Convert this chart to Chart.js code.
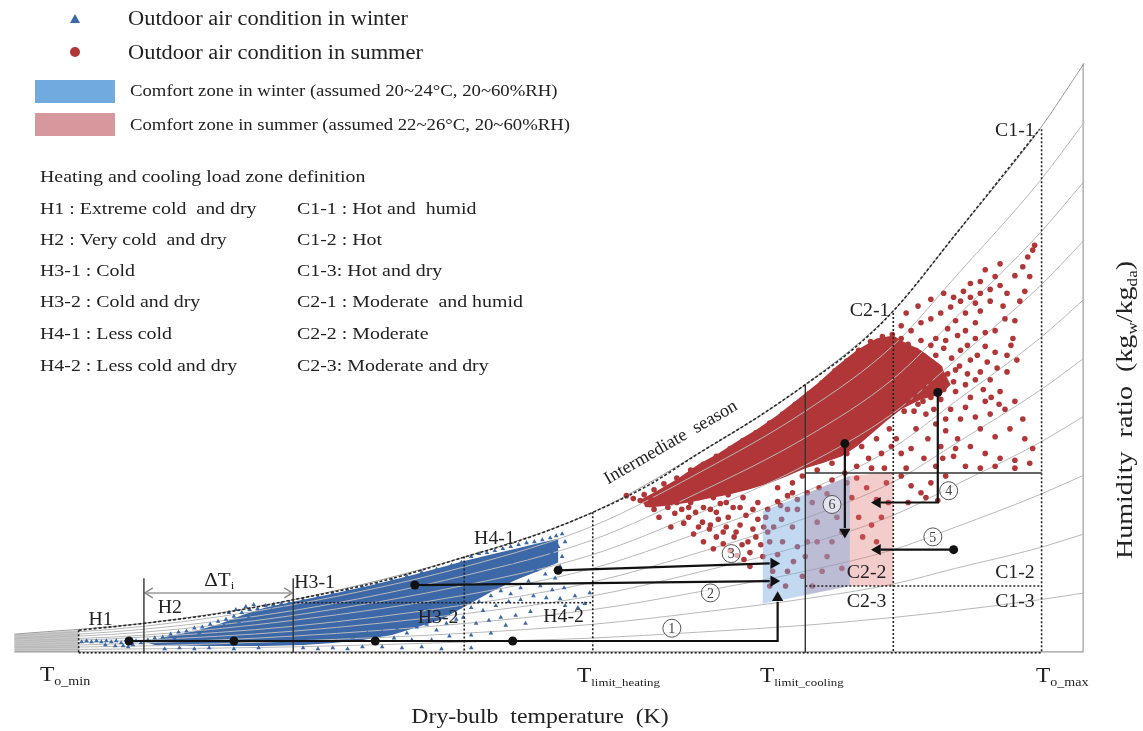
<!DOCTYPE html>
<html>
<head>
<meta charset="utf-8">
<script src="https://cdn.jsdelivr.net/npm/chart.js@4.4.0/dist/chart.umd.min.js"></script>
<style>
  html, body { margin: 0; padding: 0; background: #fff; }
  canvas { display: block; }
</style>
</head>
<body>
<canvas id="psychro" width="1143" height="731"></canvas>
<script>
// ---- data (chart units = picture pixels, y grows downward) ----

// relative humidity curves, 10% .. 90%, plus saturation (100%)
const rhT = [8, 139, 290, 465, 593, 700, 808, 897, 960, 1045, 1090];
const rhLines = [
    [655, 654, 652, 647, 643, 637, 630, 622, 615, 604, 597],
    [653, 651, 646, 638, 629, 617, 603, 588, 572, 551, 537],
    [652, 648, 641, 628, 614, 596, 575, 553, 530, 497, 477],
    [650, 645, 636, 618, 600, 576, 548, 518, 487, 444, 417],
    [648, 642, 631, 609, 586, 556, 521, 484, 445, 391, 358],
    [646, 640, 625, 599, 572, 536, 494, 449, 402, 338, 298],
    [644, 637, 620, 589, 558, 516, 467, 414, 360, 285, 238],
    [643, 634, 615, 579, 543, 495, 439, 379, 317, 231, 178],
    [641, 631, 609, 570, 529, 475, 412, 345, 275, 178, 118],
    [639, 628, 604, 560, 515, 455, 385, 310, 232, 125, 58]
];

// saturation line (dotted boundary)
const satT = [73, 139, 215, 290, 380, 465, 530, 593, 650, 700, 760, 808, 855, 897, 960, 1045];
const satW = [635, 628, 618, 604, 585, 560, 540, 515, 487, 455, 418, 385, 350, 310, 232, 125];

// dense part of the winter cloud
const winterCoreT = [140, 165, 190, 215, 240, 262, 290, 330, 370, 410, 440, 465, 490, 515, 540, 558,
    558, 540, 515, 490, 465, 440, 415, 390, 360, 330, 300, 260, 200, 150, 140];
const winterCoreW = [647, 641, 636, 629, 619, 612, 606, 598, 589, 579, 571, 564, 558, 552, 546, 542,
    566, 574, 584, 596, 610, 624, 632, 640, 645, 648, 650, 651, 651, 650, 647];

const winterPts = [
    [76,647],[81,646],[86,647],[91,646],[96,647],[101,646],[106,647],[111,646],[116,648],[121,645],
    [126,647],[131,646],[136,648],[118,651],[123,652],[128,650],[100,650],[110,651],
    [143,645],[150,643],[158,642],[166,639],[174,637],[182,636],[190,633],[198,632],[206,629],[214,626],
    [222,624],[230,621],[238,617],[246,614],[254,613],[262,610],[270,609],[278,608],[286,607],[170,643],
    [195,638],[220,630],[245,622],[235,626],[255,618],[268,615],[280,613],[250,609],[232,614],[225,617],[242,611],
    [160,654],[175,653],[190,654],[205,653],[230,654],[255,653],[300,653],[315,654],[330,653],[345,654],
    [360,652],[380,652],[400,653],[420,652],[440,654],[470,653],
    [300,604],[315,601],[330,597],[345,594],[360,591],[375,588],[390,584],[405,580],[420,576],[435,573],
    [450,569],[460,566],[350,642],[365,638],[380,637],[395,633],[405,638],[415,632],[425,629],[435,635],
    [445,628],[455,624],[448,641],[430,645],[410,645],[392,643],[462,622],[458,612],
    [470,560],[478,557],[486,556],[494,554],[502,552],[510,550],[518,548],[526,546],[534,545],[542,543],
    [550,541],[556,539],[562,537],[565,545],[558,550],[552,556],[562,560],[548,566],[560,570],[555,582],
    [545,578],[535,574],[528,585],[540,590],[552,594],[564,592],[520,592],[510,598],[500,595],[490,600],
    [478,606],[470,612],[482,615],[495,610],[508,606],[520,604],[533,600],[546,602],[560,603],[565,610],
    [500,622],[515,620],[530,616],[488,625],[475,628],[505,630],[525,628],[470,640],[490,638],[480,572],
    [495,576],[510,566],[525,562],[545,556],[530,556],
    [575,600],[585,608],[590,597],[578,612]
];

// dense part of the summer cloud
const summerCoreT = [640, 660, 680, 700, 720, 740, 760, 780, 800, 820, 840, 860, 880, 897,
    905, 925, 945, 955, 945, 925, 905, 890, 875, 860, 845, 825, 808, 790, 770, 750, 730, 710, 690, 670, 650, 640];
const summerCoreW = [503, 492, 480, 466, 455, 442, 430, 416, 400, 384, 366, 350, 338, 335,
    340, 350, 365, 385, 395, 400, 410, 422, 435, 448, 458, 465, 470, 478, 486, 492, 497, 501, 505, 508, 510, 503];

const summerPts = [
    [655,492],[665,486],[678,480],[692,472],[705,466],[718,458],[732,450],[745,442],[758,434],[772,424],
    [785,415],[798,405],[812,394],[825,383],[838,371],[850,361],[862,350],[874,341],[886,336],[896,334],
    [905,338],[912,344],[920,350],[928,356],[936,362],[944,368],[952,374],[958,382],[948,390],[935,398],
    [922,405],[908,412],[905,325],[915,330],[925,322],[935,318],[945,312],[955,306],[965,300],[975,296],
    [985,292],[995,288],[1005,284],[960,320],[970,330],[980,338],[990,346],[1000,352],[950,340],[965,350],
    [975,360],[985,372],[995,380],[1005,392],[960,370],[970,385],[945,400],[955,410],[965,420],[980,418],
    [995,415],[1010,410],[1020,402],[1012,372],[1022,360],[1018,338],[1000,330],[1010,318],[985,310],[975,282],
    [990,268],[1005,262],[1020,274],[1028,265],[1033,255],[1038,248],[1040,243],[1012,292],[1025,300],
    [930,415],[940,425],[950,432],[962,440],[975,448],[990,455],[1005,460],[1020,462],[1035,465],[920,430],
    [932,440],[945,448],[958,458],[970,468],[985,470],[915,450],[928,460],[940,468],[950,478],[935,485],
    [925,495],[915,488],[905,478],[912,505],[930,500],[942,503],[905,455],[900,440],[910,470],
    [910,312],[922,305],[935,298],[948,292],
    [902,350],[910,358],[918,366],[926,374],[934,382],[942,390],[905,365],[913,373],[921,381],[929,389],
    [937,392],[903,380],[911,388],[919,396],[927,402],[903,395],[912,402],[918,412],[940,355],[948,348],
    [956,358],[964,366],[972,374],[980,380],[988,390],[996,398],[1004,405],[940,338],[952,328],[962,335],
    [972,345],[982,355],[992,362],[1002,368],[1012,355],[1016,345],[990,332],[980,322],[970,312],[958,296],
    [968,290],[980,302],[995,300],[1008,305],[1020,320],[1030,290],[1035,275],[1000,275],[985,280],[925,340],
    [935,345],[960,392],[975,398],[990,402],[970,408],[985,430],[1000,438],[1015,430],[1028,420],[1030,440],
    [1038,450],[950,420],[938,410],[960,450],[947,460],[1000,468],[1020,470],
    [627,498],[634,501],[641,503],[648,507],[655,512],[662,505],[669,510],[676,516],[683,512],[690,520],
    [697,515],[704,525],[711,532],[718,540],[725,547],[732,554],[739,559],[746,563],[752,556],[744,548],
    [736,540],[728,530],[720,522],[712,512],[722,506],[735,510],[748,518],[760,522],[770,512],[780,504],
    [790,498],[760,505],[745,500],[730,497],[700,500],[685,526],[672,530],[660,520],[695,537],[705,545],
    [715,552],[758,540],[766,530],[772,545],[765,560],[752,570],[780,490],[795,485],[805,478],[820,472],
    [835,465],[850,455],[865,448],[880,440],[893,430],
    [645,497],[652,502],[668,498],[680,500],[692,505],[705,510],[718,515],[730,520],[742,528],[755,532],
    [763,548],[750,545],[738,535],[725,535],[712,528],[700,530],[690,510],[678,505],[715,500],[728,505],
    [742,510],[755,512],[768,520],[776,530],[784,522],[790,512],[800,502],[810,495],[822,490],[835,482],
    [848,475],[860,468],[872,460],[885,455],[895,448],
    [770,535],[785,545],[795,530],[780,558],[800,550],[790,575],[810,545],[820,525],[830,560],[840,520],
    [835,545],[825,575],[815,590],[805,580],[845,572],[855,500],[862,520],[870,490],[880,502],[885,520],
    [866,540],[875,528],[890,485],[850,485],[830,496],[815,505],[800,512],[795,495],[783,508],[860,480],
    [875,470],[888,470],[892,505],[880,545],[845,535],[820,545],[808,560],[796,565],[775,575],[772,590],[788,590]
];

// comfort zones
const winterZoneT = [765, 853, 853, 765, 765];
const winterZoneW = [514, 478, 590, 608, 514];
const summerZoneT = [808, 853, 897, 897, 853, 808, 808];
const summerZoneW = [496, 478, 474, 590, 590, 599, 496];

// zone boundaries: [x1, y1, x2, y2]
const dottedLines = [
    [73, 658, 1047, 658], [73, 635, 73, 658], [290, 607, 593, 607], [463, 560, 463, 658],
    [593, 515, 593, 658], [808, 590, 1047, 590], [897, 312, 897, 658], [1047, 125, 1047, 658]
];
const solidLines = [
    [139, 582, 139, 658], [290, 582, 290, 658], [808, 385, 808, 658], [808, 475, 1047, 475]
];

// process arrows (polyline, then head position and direction)
const arrowPaths = [
    [[124,646],[780,646],[780,606]],
    [[413,589],[772,585]],
    [[558,574],[772,567]],
    [[942,393],[942,505],[884,505]],
    [[958,553],[884,553]],
    [[848,445],[848,531]]
];
const arrowHeads = [[780,602,0],[776,585,90],[776,567,90],[881,505,270],[881,553,270],[848,535,180]];
const arrowDots = [[124,646],[230,646],[373,646],[512,646],[413,589],[558,574],[942,393],[958,553],[848,445]];
const arrowNums = [['1',673,633],['2',712,597],['3',733,557],['4',953,493],['5',937,540],['6',835,507]];

// zone names
const zoneLabels = [
    ['C1-1', 1040, 127, 'right'], ['C2-1', 853, 310, 'left'], ['C2-2', 850, 577, 'left'],
    ['C2-3', 850, 607, 'left'], ['C1-2', 1000, 577, 'left'], ['C1-3', 1000, 607, 'left'],
    ['H1', 83, 625, 'left'], ['H2', 153, 613, 'left'], ['H3-1', 291, 587, 'left'],
    ['H4-1', 473, 542, 'left'], ['H4-2', 543, 622, 'left'], ['H3-2', 416, 623, 'left']
];

const defLeft = ['H1 : Extreme cold  and dry', 'H2 : Very cold  and dry', 'H3-1 : Cold',
    'H3-2 : Cold and dry', 'H4-1 : Less cold', 'H4-2 : Less cold and dry'];
const defRight = ['C1-1 : Hot and  humid', 'C1-2 : Hot', 'C1-3: Hot and dry',
    'C2-1 : Moderate  and humid', 'C2-2 : Moderate', 'C2-3: Moderate and dry'];
const defRows = [210, 241, 272, 303, 335, 367];

// ---- styling ----
const FONT = '"Liberation Serif", "Times New Roman", serif';
const BLUE = '#3c68a8';
const RED = '#b13638';
const WIDE = 1.17;   // the original lettering is a bit stretched sideways

const xy = (xs, ys) => xs.map((x, i) => ({x: x, y: ys[i]}));
const pairs = arr => arr.map(p => ({x: p[0], y: p[1]}));

function path(data, color, width, dash, order, extra) {
    return Object.assign({
        data: data, showLine: true, borderColor: color, borderWidth: width,
        borderDash: dash || [], pointRadius: 0, fill: false, order: order
    }, extra || {});
}

const datasets = [];

// background wedge at the cold end
datasets.push(path(pairs([[8,639],[73,635],[73,657],[8,657],[8,639]]), '#c9c9c9', 0, null, 120,
    {fill: 'shape', backgroundColor: '#c9c9c9'}));

// frame of the chart
datasets.push(path(pairs([[8,657],[1089,657],[1089,58]]), '#9a9a9a', 1.2, null, 110));

// cores of the clouds
datasets.push(path(xy(winterCoreT, winterCoreW), BLUE, 0, null, 90,
    {fill: 'shape', backgroundColor: BLUE}));
datasets.push(path(xy(summerCoreT, summerCoreW), RED, 0, null, 90,
    {fill: 'shape', backgroundColor: RED}));

// RH curves over the cores
rhLines.forEach((w, i) => {
    datasets.push(path(xy(rhT, w), i === 9 ? '#9a9a9a' : '#b8b8b8', 1, null, 80,
        {cubicInterpolationMode: 'monotone'}));
});

// scattered observations
datasets.push({
    label: 'Outdoor air condition in winter', data: pairs(winterPts), order: 60,
    pointStyle: 'triangle', pointRadius: 2.7, backgroundColor: BLUE, borderColor: BLUE, borderWidth: 0
});
datasets.push({
    label: 'Outdoor air condition in summer', data: pairs(summerPts), order: 60,
    pointStyle: 'circle', pointRadius: 2.8, backgroundColor: RED, borderColor: RED, borderWidth: 0
});

// comfort zones (pink first, blue on top)
datasets.push(path(xy(summerZoneT, summerZoneW), 'rgba(0,0,0,0)', 0, null, 41,
    {fill: 'shape', backgroundColor: 'rgba(222,115,115,0.36)'}));
datasets.push(path(xy(winterZoneT, winterZoneW), 'rgba(0,0,0,0)', 0, null, 40,
    {fill: 'shape', backgroundColor: 'rgba(120,170,225,0.45)'}));

// saturation line
datasets.push(path(xy(satT, satW), '#2a2a2a', 1.6, [3, 2], 30, {cubicInterpolationMode: 'monotone'}));

dottedLines.forEach(l => {
    datasets.push(path(pairs([[l[0], l[1]], [l[2], l[3]]]), '#222', 1.6, [2, 2], 30));
});
solidLines.forEach(l => {
    datasets.push(path(pairs([[l[0], l[1]], [l[2], l[3]]]), '#333', 1.4, null, 30));
});

// delta T span
datasets.push(path(pairs([[140,597],[289,597]]), '#9a9a9a', 1.5, null, 30));
datasets.push(path(pairs([[148,592],[140,597],[148,602]]), '#8a8a8a', 1.5, null, 30));
datasets.push(path(pairs([[281,592],[289,597],[281,602]]), '#8a8a8a', 1.5, null, 30));

// arrows
arrowPaths.forEach(p => {
    datasets.push(path(pairs(p), '#111', 2.2, null, 20));
});
datasets.push({
    data: arrowHeads.map(h => ({x: h[0], y: h[1], r: h[2]})), order: 10,
    pointStyle: 'triangle', pointRadius: 6.5, backgroundColor: '#111', borderWidth: 0,
    pointRotation: ctx => (ctx.raw ? ctx.raw.r : 0)
});
datasets.push({
    data: pairs(arrowDots), order: 10,
    pointStyle: 'circle', pointRadius: 4.5, backgroundColor: '#111', borderWidth: 0
});

// text drawn with a sideways stretch, anchored at x
function txt(ctx, s, x, y, size, align, sx) {
    sx = sx || WIDE;
    ctx.save();
    ctx.font = size + 'px ' + FONT;
    const w = ctx.measureText(s).width * sx;
    let x0 = x;
    if (align === 'right') x0 = x - w;
    if (align === 'center') x0 = x - w / 2;
    ctx.translate(x0, y);
    ctx.scale(sx, 1);
    ctx.textAlign = 'left';
    ctx.fillText(s, 0, 0);
    ctx.restore();
    return w;
}

function subText(ctx, main, sub, x, y, size, subSize) {
    const w = txt(ctx, main, x, y, size, 'left');
    txt(ctx, sub, x + w, y + size * 0.3, subSize, 'left');
}

const textPlugin = {
    id: 'psyTexts',
    afterDatasetsDraw(chart) {
        const ctx = chart.ctx;
        const sx = chart.scales.x, sy = chart.scales.y;
        const px = v => sx.getPixelForValue(v);
        const py = v => sy.getPixelForValue(v);
        ctx.save();
        ctx.textBaseline = 'middle';

        // legend
        ctx.fillStyle = BLUE;
        ctx.beginPath();
        ctx.moveTo(75, 14); ctx.lineTo(80, 23); ctx.lineTo(70, 23); ctx.closePath();
        ctx.fill();
        ctx.fillStyle = RED;
        ctx.beginPath();
        ctx.arc(75, 52, 5, 0, Math.PI * 2);
        ctx.fill();
        ctx.fillStyle = 'rgb(112,170,222)';
        ctx.fillRect(35, 80, 80, 23);
        ctx.fillStyle = 'rgb(214,152,156)';
        ctx.fillRect(35, 113, 80, 23);
        ctx.fillStyle = '#222';
        txt(ctx, 'Outdoor air condition in winter', 128, 20, 20, 'left', 1.12);
        txt(ctx, 'Outdoor air condition in summer', 128, 54, 20, 'left', 1.12);
        txt(ctx, 'Comfort zone in winter (assumed 20~24\u00b0C, 20~60%RH)', 130, 92, 16, 'left');
        txt(ctx, 'Comfort zone in summer (assumed 22~26\u00b0C, 20~60%RH)', 130, 126, 16, 'left');

        // zone definitions
        txt(ctx, 'Heating and cooling load zone definition', 40, 178, 17, 'left');
        defRows.forEach((y, i) => {
            txt(ctx, defLeft[i], 40, y, 17, 'left');
            txt(ctx, defRight[i], 297, y, 17, 'left');
        });

        // zone names on the chart
        zoneLabels.forEach(l => {
            txt(ctx, l[0], px(l[1]), py(l[2]), 18, l[3], 1.1);
        });
        subText(ctx, '\u0394T', 'i', px(200), py(585), 18, 11);

        // circled process numbers
        ctx.strokeStyle = '#555';
        ctx.lineWidth = 1;
        arrowNums.forEach(n => {
            ctx.beginPath();
            ctx.arc(px(n[1]), py(n[2]), 9, 0, Math.PI * 2);
            ctx.fillStyle = 'rgba(255,255,255,0.6)';
            ctx.fill();
            ctx.stroke();
            ctx.fillStyle = '#444';
            txt(ctx, n[0], px(n[1]), py(n[2]) + 1, 14, 'center', 1);
        });
        ctx.fillStyle = '#222';

        // intermediate season along the saturation line
        ctx.save();
        ctx.translate(px(672), py(444));
        ctx.rotate(-30 * Math.PI / 180);
        txt(ctx, 'Intermediate  season', 0, 0, 18, 'center', 1.02);
        ctx.restore();

        // temperature marks
        subText(ctx, 'T', 'o_min', 40, 676, 20, 12);
        subText(ctx, 'T', 'limit_heating', 577, 677, 20, 11);
        subText(ctx, 'T', 'limit_cooling', 760, 677, 20, 11);
        subText(ctx, 'T', 'o_max', 1036, 677, 20, 12);

        // axis titles
        txt(ctx, 'Dry-bulb  temperature  (K)', 540, 717, 22, 'center', 1.08);

        ctx.save();
        ctx.translate(1126, 410);
        ctx.rotate(-Math.PI / 2);
        const parts = [['Humidity  ratio  (kg', 23, 0], ['w', 14, 7], ['/kg', 23, 0], ['da', 14, 7], [')', 23, 0]];
        let total = 0;
        parts.forEach(p => { ctx.font = p[1] + 'px ' + FONT; total += ctx.measureText(p[0]).width * 1.22; });
        let cx = -total / 2;
        parts.forEach(p => {
            cx += txt(ctx, p[0], cx, p[2], p[1], 'left', 1.22);
        });
        ctx.restore();

        ctx.restore();
    }
};

new Chart(document.getElementById('psychro'), {
    type: 'scatter',
    data: {datasets: datasets},
    options: {
        responsive: false,
        animation: false,
        layout: {padding: 0},
        elements: {line: {tension: 0}},
        scales: {
            x: {type: 'linear', min: 0, max: 1143, display: false},
            y: {type: 'linear', min: 0, max: 731, reverse: true, display: false}
        },
        plugins: {
            legend: {display: false},
            tooltip: {enabled: false}
        }
    },
    plugins: [textPlugin]
});
</script>
</body>
</html>
